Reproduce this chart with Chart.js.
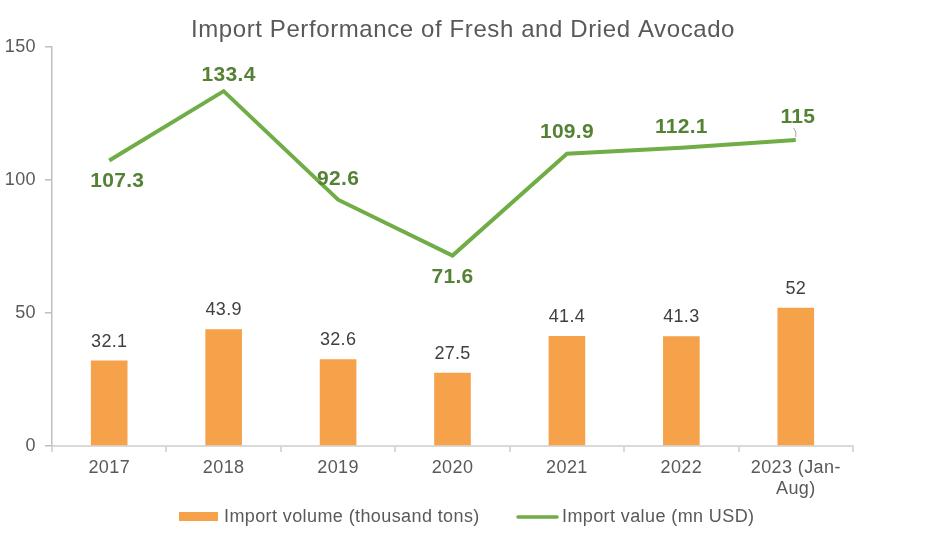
<!DOCTYPE html>
<html>
<head>
<meta charset="utf-8">
<script src="https://cdn.jsdelivr.net/npm/chart.js@4/dist/chart.umd.min.js"></script>
<style>
html,body{margin:0;padding:0;background:#fff;}
#wrap{width:927px;height:546px;position:relative;}
</style>
</head>
<body>
<div id="wrap"><canvas id="c" width="927" height="546"></canvas></div>
<script>
const categories = ["2017", "2018", "2019", "2020", "2021", "2022", ["2023 (Jan-", "Aug)"]];
const importVolume = [32.1, 43.9, 32.6, 27.5, 41.4, 41.3, 52];
const importValue = [107.3, 133.4, 92.6, 71.6, 109.9, 112.1, 115];
const yTicks = [0, 50, 100, 150];
const titleText = "Import Performance of Fresh and Dried Avocado";
const volumeLabel = "Import volume (thousand tons)";
const valueLabel = "Import value (mn USD)";

const FONT = "'Liberation Sans', Arial, sans-serif";
const GRAY = "#595959";
const ORANGE = "#F5A24B";
const GREEN = "#70AD47";
const DARKGREEN = "#548235";

// label placement offsets for the line labels (style only)
const lineLabelDy = [21, -16, -20, 22, -21, -21, -23];
const lineLabelDx = [8, 5, 0, 0, 0, 0, 2];

const spacingPlugin = {
  id: 'spacing',
  beforeDraw(chart) { chart.ctx.letterSpacing = '0.4px'; }
};

const labelsPlugin = {
  id: 'customLabels',
  afterDraw(chart) {
    const ctx = chart.ctx;
    ctx.save();
    // title
    ctx.letterSpacing = '0.6px';
    ctx.fillStyle = GRAY;
    ctx.font = "24px " + FONT;
    ctx.textAlign = 'center';
    ctx.textBaseline = 'middle';
    ctx.fillText(titleText, 463, 30);

    ctx.letterSpacing = '0.3px';
    // bar labels
    const barMeta = chart.getDatasetMeta(0);
    ctx.font = "18px " + FONT;
    ctx.fillStyle = "#404040";
    barMeta.data.forEach((el, i) => {
      ctx.fillText(String(importVolume[i]), el.x, el.y - 19);
    });
    // line labels
    const lineMeta = chart.getDatasetMeta(1);
    ctx.font = "bold 21px " + FONT;
    ctx.fillStyle = DARKGREEN;
    lineMeta.data.forEach((el, i) => {
      ctx.fillText(String(importValue[i]), el.x + lineLabelDx[i], el.y + lineLabelDy[i]);
    });
    // leader line for last label
    const last = lineMeta.data[lineMeta.data.length - 1];
    ctx.strokeStyle = '#a6a6a6';
    ctx.lineWidth = 1;
    ctx.beginPath();
    ctx.moveTo(last.x - 2, last.y - 12);
    ctx.lineTo(last.x, last.y - 8);
    ctx.lineTo(last.x, last.y - 3);
    ctx.stroke();

    // legend
    const ly = 517;
    ctx.fillStyle = ORANGE;
    ctx.fillRect(179, ly - 5, 39, 9);
    ctx.fillStyle = GRAY;
    ctx.font = "18px " + FONT;
    ctx.letterSpacing = '0.4px';
    ctx.textAlign = 'left';
    ctx.fillText(volumeLabel, 224, ly);
    ctx.strokeStyle = GREEN;
    ctx.lineWidth = 3.5;
    ctx.lineCap = 'round';
    ctx.beginPath();
    ctx.moveTo(518, ly);
    ctx.lineTo(557, ly);
    ctx.stroke();
    ctx.fillText(valueLabel, 562, ly);
    ctx.restore();
  }
};

new Chart(document.getElementById('c'), {
  data: {
    labels: categories,
    datasets: [
      {
        type: 'bar',
        label: volumeLabel,
        data: importVolume,
        backgroundColor: ORANGE,
        barPercentage: 0.32,
        categoryPercentage: 1,
        order: 2
      },
      {
        type: 'line',
        label: valueLabel,
        data: importValue,
        borderColor: GREEN,
        borderWidth: 4,
        pointRadius: 0,
        tension: 0,
        fill: false,
        order: 1
      }
    ]
  },
  options: {
    responsive: false,
    animation: false,
    layout: { padding: { left: 0, right: 74, top: 47, bottom: 0 } },
    plugins: {
      legend: { display: false },
      title: { display: false },
      tooltip: { enabled: false }
    },
    scales: {
      x: {
        offset: true,
        grid: { display: true, drawOnChartArea: false, drawTicks: true, tickLength: 6, offset: true, color: '#d9d9d9', lineWidth: 2 },
        border: { display: true, color: '#d9d9d9', width: 2 },
        ticks: { color: GRAY, font: { size: 18, family: FONT }, padding: 5, maxRotation: 0, autoSkip: false },
        afterFit(scale) { scale.height = 100; }
      },
      y: {
        min: 0, max: 150,
        afterBuildTicks(scale) { scale.ticks = yTicks.map(v => ({ value: v })); },
        grid: { display: true, drawOnChartArea: false, drawTicks: true, tickLength: 7, color: '#bfbfbf', lineWidth: 1.5 },
        border: { display: true, color: '#bfbfbf', width: 1.5 },
        ticks: { color: GRAY, font: { size: 18, family: FONT }, padding: 9 },
        afterFit(scale) { scale.width = 52; }
      }
    }
  },
  plugins: [spacingPlugin, labelsPlugin]
});
</script>
</body>
</html>
